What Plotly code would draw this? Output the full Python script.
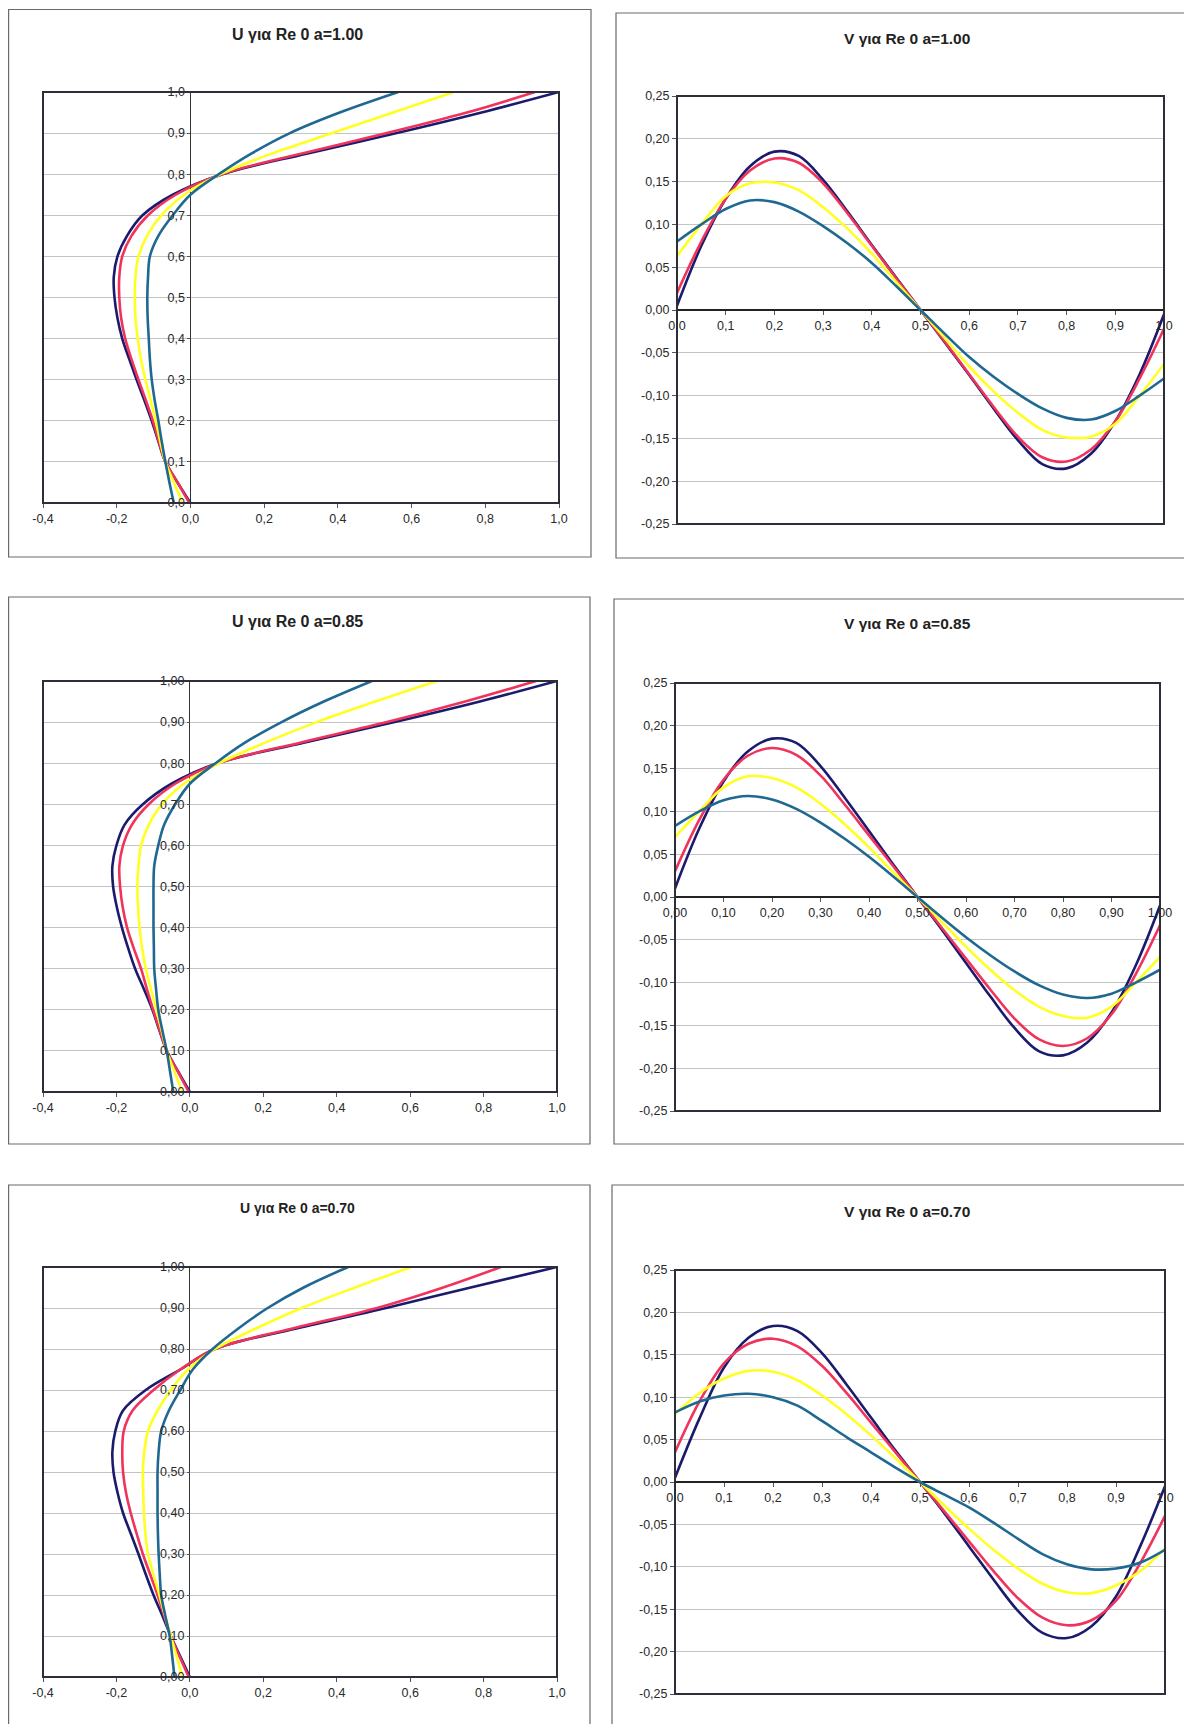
import plotly.graph_objects as go

# ---------------- data ----------------
y_pos = [0.00, 0.05, 0.10, 0.15, 0.20, 0.25, 0.30, 0.35, 0.40, 0.45, 0.50,
         0.55, 0.60, 0.65, 0.70, 0.75, 0.80, 0.85, 0.90, 0.95, 1.00]
x_pos = [0.00, 0.05, 0.10, 0.15, 0.20, 0.25, 0.30, 0.35, 0.40, 0.45, 0.50,
         0.55, 0.60, 0.65, 0.70, 0.75, 0.80, 0.85, 0.90, 0.95, 1.00]

# U profiles (u along vertical centre line, y_pos as ordinate)
u100_navy = [0.000, -0.035, -0.068, -0.087, -0.105, -0.125, -0.146, -0.166, -0.185, -0.198, -0.206,
             -0.208, -0.198, -0.172, -0.130, -0.048, 0.087, 0.315, 0.560, 0.790, 1.000]
u100_red = [-0.003, -0.035, -0.068, -0.086, -0.102, -0.121, -0.141, -0.160, -0.177, -0.188, -0.193,
            -0.193, -0.185, -0.160, -0.115, -0.040, 0.085, 0.300, 0.533, 0.750, 0.935]
u100_yellow = [-0.020, -0.045, -0.068, -0.082, -0.094, -0.108, -0.122, -0.134, -0.143, -0.149, -0.151,
               -0.149, -0.141, -0.118, -0.079, -0.017, 0.082, 0.220, 0.385, 0.550, 0.715]
u100_teal = [-0.045, -0.057, -0.068, -0.078, -0.087, -0.097, -0.105, -0.110, -0.113, -0.116, -0.117,
             -0.115, -0.110, -0.087, -0.048, 0.000, 0.077, 0.165, 0.270, 0.405, 0.564]

u85_navy = [0.000, -0.032, -0.063, -0.083, -0.102, -0.125, -0.149, -0.168, -0.185, -0.199, -0.209,
            -0.211, -0.200, -0.178, -0.128, -0.050, 0.075, 0.310, 0.558, 0.790, 1.000]
u85_red = [-0.003, -0.033, -0.063, -0.082, -0.100, -0.117, -0.133, -0.153, -0.171, -0.183, -0.190,
           -0.192, -0.182, -0.158, -0.112, -0.040, 0.078, 0.300, 0.537, 0.750, 0.943]
u85_yellow = [-0.020, -0.042, -0.063, -0.077, -0.091, -0.106, -0.120, -0.130, -0.137, -0.141, -0.143,
              -0.140, -0.133, -0.112, -0.076, -0.016, 0.080, 0.205, 0.345, 0.505, 0.673]
u85_teal = [-0.045, -0.054, -0.063, -0.075, -0.086, -0.092, -0.097, -0.098, -0.099, -0.099, -0.099,
            -0.097, -0.086, -0.070, -0.040, 0.000, 0.070, 0.150, 0.250, 0.365, 0.496]

u70_navy = [0.000, -0.026, -0.052, -0.075, -0.099, -0.120, -0.140, -0.161, -0.182, -0.197, -0.208,
            -0.211, -0.203, -0.182, -0.120, -0.026, 0.068, 0.290, 0.535, 0.765, 1.000]
u70_red = [-0.003, -0.028, -0.052, -0.070, -0.088, -0.108, -0.128, -0.145, -0.161, -0.174, -0.182,
           -0.184, -0.180, -0.156, -0.099, -0.026, 0.068, 0.280, 0.510, 0.690, 0.847]
u70_yellow = [-0.020, -0.036, -0.052, -0.068, -0.083, -0.099, -0.114, -0.121, -0.125, -0.127, -0.128,
              -0.124, -0.114, -0.088, -0.052, -0.005, 0.068, 0.180, 0.305, 0.450, 0.603]
u70_teal = [-0.042, -0.048, -0.055, -0.067, -0.078, -0.082, -0.085, -0.087, -0.088, -0.088, -0.088,
            -0.085, -0.078, -0.057, -0.026, 0.008, 0.062, 0.132, 0.212, 0.310, 0.431]

# V profiles (v along horizontal centre line, x_pos as abscissa)
v100_navy = [0.005, 0.075, 0.130, 0.168, 0.185, 0.180, 0.152, 0.115, 0.076, 0.038, 0.000,
             -0.038, -0.076, -0.115, -0.152, -0.180, -0.185, -0.168, -0.130, -0.075, -0.005]
v100_red = [0.020, 0.080, 0.130, 0.163, 0.177, 0.172, 0.148, 0.113, 0.075, 0.037, 0.000,
            -0.037, -0.075, -0.113, -0.148, -0.172, -0.177, -0.163, -0.130, -0.080, -0.022]
v100_yellow = [0.063, 0.100, 0.133, 0.148, 0.149, 0.140, 0.120, 0.095, 0.066, 0.033, 0.000,
               -0.033, -0.066, -0.095, -0.120, -0.140, -0.149, -0.148, -0.133, -0.100, -0.063]
v100_teal = [0.080, 0.100, 0.118, 0.128, 0.126, 0.115, 0.098, 0.078, 0.055, 0.028, 0.000,
             -0.028, -0.055, -0.078, -0.098, -0.115, -0.126, -0.128, -0.118, -0.100, -0.080]

v85_navy = [0.010, 0.080, 0.135, 0.170, 0.185, 0.180, 0.153, 0.116, 0.077, 0.038, 0.000,
            -0.038, -0.077, -0.116, -0.153, -0.180, -0.185, -0.170, -0.135, -0.080, -0.010]
v85_red = [0.030, 0.090, 0.137, 0.165, 0.174, 0.166, 0.142, 0.108, 0.072, 0.036, 0.000,
           -0.036, -0.072, -0.108, -0.142, -0.166, -0.174, -0.165, -0.137, -0.090, -0.033]
v85_yellow = [0.070, 0.100, 0.128, 0.141, 0.139, 0.128, 0.109, 0.085, 0.058, 0.029, 0.000,
              -0.029, -0.058, -0.085, -0.109, -0.128, -0.139, -0.141, -0.128, -0.100, -0.070]
v85_teal = [0.083, 0.100, 0.113, 0.118, 0.114, 0.103, 0.087, 0.068, 0.047, 0.024, 0.000,
            -0.024, -0.047, -0.068, -0.087, -0.103, -0.114, -0.118, -0.113, -0.100, -0.085]

v70_navy = [0.005, 0.075, 0.135, 0.170, 0.184, 0.178, 0.152, 0.115, 0.076, 0.037, 0.000,
            -0.037, -0.076, -0.115, -0.152, -0.178, -0.184, -0.170, -0.135, -0.075, -0.005]
v70_red = [0.035, 0.095, 0.140, 0.163, 0.169, 0.160, 0.137, 0.105, 0.070, 0.035, 0.000,
           -0.035, -0.070, -0.105, -0.137, -0.160, -0.169, -0.163, -0.140, -0.095, -0.040]
v70_yellow = [0.080, 0.105, 0.122, 0.131, 0.130, 0.120, 0.102, 0.080, 0.055, 0.028, 0.000,
              -0.028, -0.055, -0.080, -0.102, -0.120, -0.130, -0.131, -0.122, -0.105, -0.078]
v70_teal = [0.082, 0.095, 0.102, 0.104, 0.100, 0.090, 0.072, 0.053, 0.035, 0.017, 0.000,
            -0.015, -0.030, -0.048, -0.067, -0.085, -0.097, -0.103, -0.102, -0.095, -0.080]

# tick labels
u_x_vals = [-0.4, -0.2, 0.0, 0.2, 0.4, 0.6, 0.8, 1.0]
u_x_text = ["-0,4", "-0,2", "0,0", "0,2", "0,4", "0,6", "0,8", "1,0"]
u_y_vals = [0.0, 0.1, 0.2, 0.3, 0.4, 0.5, 0.6, 0.7, 0.8, 0.9, 1.0]
u_y_text_1 = ["0,0", "0,1", "0,2", "0,3", "0,4", "0,5", "0,6", "0,7", "0,8", "0,9", "1,0"]
u_y_text_2 = ["0,00", "0,10", "0,20", "0,30", "0,40", "0,50", "0,60", "0,70", "0,80", "0,90", "1,00"]
v_x_vals = [0.0, 0.1, 0.2, 0.3, 0.4, 0.5, 0.6, 0.7, 0.8, 0.9, 1.0]
v_x_text_1 = ["0,0", "0,1", "0,2", "0,3", "0,4", "0,5", "0,6", "0,7", "0,8", "0,9", "1,0"]
v_x_text_2 = ["0,00", "0,10", "0,20", "0,30", "0,40", "0,50", "0,60", "0,70", "0,80", "0,90", "1,00"]
v_y_vals = [-0.25, -0.20, -0.15, -0.10, -0.05, 0.0, 0.05, 0.10, 0.15, 0.20, 0.25]
v_y_text = ["-0,25", "-0,20", "-0,15", "-0,10", "-0,05", "0,00", "0,05", "0,10", "0,15", "0,20", "0,25"]

titles = ["U για Re 0 a=1.00", "V για Re 0 a=1.00",
          "U για Re 0 a=0.85", "V για Re 0 a=0.85",
          "U για Re 0 a=0.70", "V για Re 0 a=0.70"]

series_colors = ["#1b1b6e", "#f0335c", "#ffff22", "#1f6892"]

# ---------------- layout geometry (page pixels) ----------------
W, H = 1192, 1724
OFF = 8  # the page body margin shifts the figure by this many pixels
FONT = "Liberation Sans, Arial, sans-serif"


def px_x(p):
    return (p - OFF) / W


def px_y(p):
    return 1 - (p - OFF) / H


# plot areas: (x0, x1, ytop, ybottom)
areas = [(43, 559, 92, 503), (677, 1164, 96, 524),
         (43, 557, 681, 1092), (675, 1160, 683, 1111),
         (43, 557, 1267, 1677), (675, 1165, 1270, 1694)]
# outer chart boxes: (x0, x1, ytop, ybottom)
boxes = [(8.6, 591, 9.5, 557), (616, 1190, 13, 558),
         (8.6, 590, 597, 1144), (614, 1190, 599, 1144),
         (8.6, 590, 1185, 1735), (612, 1190, 1185, 1735)]
title_pos = [(297, 35), (907, 38), (297, 622), (907, 623), (297, 1208), (907, 1211)]
title_size = [16, 15.5, 16, 15.5, 14, 15.5]

panels = [
    ("U", [u100_navy, u100_red, u100_yellow, u100_teal], u_y_text_1, None),
    ("V", [v100_navy, v100_red, v100_yellow, v100_teal], None, v_x_text_1),
    ("U", [u85_navy, u85_red, u85_yellow, u85_teal], u_y_text_2, None),
    ("V", [v85_navy, v85_red, v85_yellow, v85_teal], None, v_x_text_2),
    ("U", [u70_navy, u70_red, u70_yellow, u70_teal], u_y_text_2, None),
    ("V", [v70_navy, v70_red, v70_yellow, v70_teal], None, v_x_text_1),
]

fig = go.Figure()
layout = dict(width=W, height=H,
              margin=dict(l=0, r=0, t=0, b=0, pad=0, autoexpand=False),
              autosize=False,
              paper_bgcolor="white", plot_bgcolor="white", showlegend=False,
              font=dict(family=FONT, size=12, color="#333333"))
shapes = []
annotations = []

tickfont = dict(family=FONT, size=12.5, color="#2a2a2a")
grid_col = "#c4c4c4"

for i, (kind, series, ytext, xtext) in enumerate(panels):
    k = i + 1
    xa = "xaxis" if k == 1 else f"xaxis{k}"
    ya = "yaxis" if k == 1 else f"yaxis{k}"
    xr = "x" if k == 1 else f"x{k}"
    yr = "y" if k == 1 else f"y{k}"
    x0, x1, yt, yb = areas[i]
    xdom = [px_x(x0), px_x(x1)]
    ydom = [px_y(yb), px_y(yt)]

    if kind == "U":
        for vals, col in zip(series, series_colors):
            fig.add_trace(go.Scatter(x=vals, y=y_pos, mode="lines", xaxis=xr, yaxis=yr,
                                     line=dict(color=col, width=2.6, shape="spline", smoothing=1.0),
                                     hoverinfo="skip"))
        zero_x = xdom[0] + (0 - (-0.4)) / 1.4 * (xdom[1] - xdom[0])
        layout[xa] = dict(domain=xdom, range=[-0.4, 1.0], anchor=yr,
                          tickvals=u_x_vals, ticktext=u_x_text, tickfont=tickfont,
                          showgrid=False, zeroline=True, zerolinecolor="#333333", zerolinewidth=1,
                          showline=False, ticks="outside", ticklen=4, tickcolor="#555555",
                          automargin=False, fixedrange=True)
        layout[ya] = dict(domain=ydom, range=[0, 1], anchor="free", position=zero_x,
                          tickvals=u_y_vals, ticktext=ytext, tickfont=tickfont,
                          showgrid=True, gridcolor=grid_col, gridwidth=1, zeroline=False,
                          showline=False, ticks="outside", ticklen=3, tickcolor="#555555",
                          automargin=False, fixedrange=True)
    else:
        for vals, col in zip(series, series_colors):
            fig.add_trace(go.Scatter(x=x_pos, y=vals, mode="lines", xaxis=xr, yaxis=yr,
                                     line=dict(color=col, width=2.6, shape="spline", smoothing=1.0),
                                     hoverinfo="skip"))
        zero_y = ydom[0] + 0.5 * (ydom[1] - ydom[0])
        layout[xa] = dict(domain=xdom, range=[0, 1], anchor="free", position=zero_y,
                          tickvals=v_x_vals, ticktext=xtext, tickfont=tickfont,
                          showgrid=False, zeroline=False, showline=False,
                          ticks="outside", ticklen=4, tickcolor="#555555",
                          automargin=False, fixedrange=True)
        layout[ya] = dict(domain=ydom, range=[-0.25, 0.25], anchor=xr,
                          tickvals=v_y_vals, ticktext=v_y_text, tickfont=tickfont,
                          showgrid=True, gridcolor=grid_col, gridwidth=1,
                          zeroline=True, zerolinecolor="#222222", zerolinewidth=1.5,
                          showline=False, ticks="outside", ticklen=4, tickcolor="#555555",
                          automargin=False, fixedrange=True)

    # plot-area frame
    shapes.append(dict(type="rect", xref="paper", yref="paper",
                       x0=xdom[0], x1=xdom[1], y0=ydom[0], y1=ydom[1],
                       line=dict(color="#2e2e3a", width=2), layer="above"))
    # outer chart box
    bx0, bx1, byt, byb = boxes[i]
    shapes.append(dict(type="rect", xref="paper", yref="paper",
                       x0=px_x(bx0), x1=px_x(bx1), y0=px_y(byb), y1=px_y(byt),
                       line=dict(color="#6a6a6a", width=1.2), layer="below"))
    tx, ty = title_pos[i]
    annotations.append(dict(text=f"<b>{titles[i]}</b>", xref="paper", yref="paper",
                            x=px_x(tx), y=px_y(ty), xanchor="center", yanchor="middle",
                            showarrow=False,
                            font=dict(family=FONT, size=title_size[i], color="#222222")))

layout["shapes"] = shapes
layout["annotations"] = annotations
fig.update_layout(**layout)

fig.write_html("out.html", config={"responsive": False, "displayModeBar": False})
